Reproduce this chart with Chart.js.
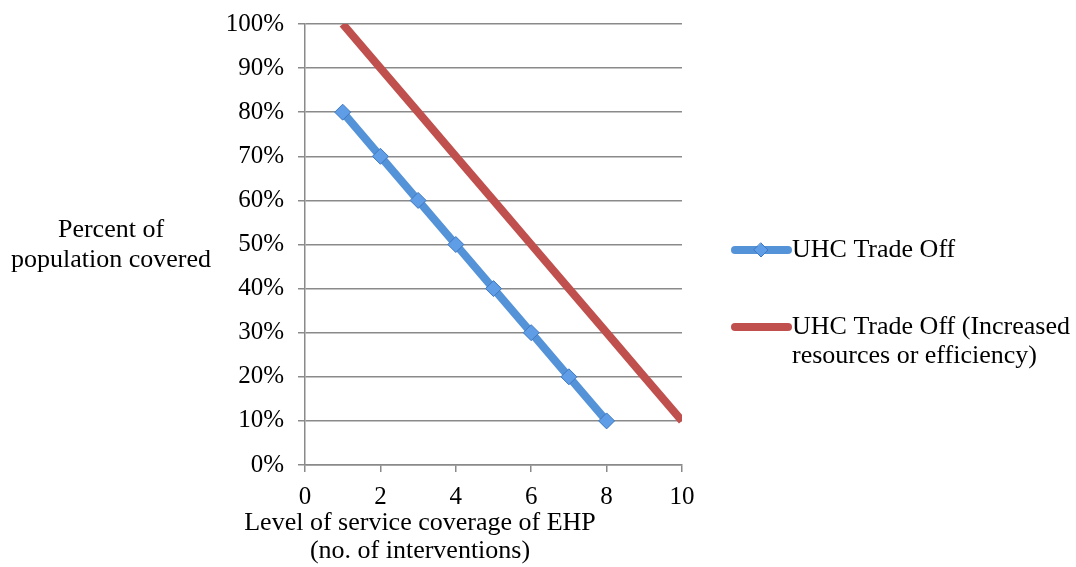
<!DOCTYPE html>
<html><head><meta charset="utf-8">
<script src="https://cdn.jsdelivr.net/npm/chart.js@4/dist/chart.umd.min.js"></script>
<style>html,body{margin:0;padding:0;background:#fff}#c{display:block}</style>
</head><body>
<canvas id="c" width="1076" height="567"></canvas>
<script>
const seriesNames = ['UHC Trade Off', 'UHC Trade Off (Increased resources or efficiency)'];
const blueX = [1, 2, 3, 4, 5, 6, 7, 8];
const blueY = [80, 70, 60, 50, 40, 30, 20, 10];
const redX = [1, 2, 3, 4, 5, 6, 7, 8, 9, 10];
const redY = [100, 90, 80, 70, 60, 50, 40, 30, 20, 10];
const xTicks = [0, 2, 4, 6, 8, 10];
const yTickStep = 10;
const yTitle = ['Percent of', 'population covered'];
const xTitle = ['Level of service coverage of EHP', '(no. of interventions)'];
const legendLines = [['UHC Trade Off'], ['UHC Trade Off (Increased', 'resources or efficiency)']];

const FONT = '"Liberation Serif", "DejaVu Serif", serif';
const FS = 25, FT = 26;
const BLUE = '#5593d9', RED = '#c0504d', GRID = '#8a8a8a';
const MFILL = '#5f9de6', MEDGE = '#3f78c0';

const toPts = (xs, ys) => xs.map((x, i) => ({x, y: ys[i]}));

const textPlugin = {
  id: 'texts',
  afterDraw(chart) {
    const ctx = chart.ctx;
    ctx.save();
    ctx.fillStyle = '#000';
    ctx.font = FT + 'px ' + FONT;
    ctx.textAlign = 'center';
    ctx.textBaseline = 'middle';
    ctx.fillText(yTitle[0], 111, 230);
    ctx.fillText(yTitle[1], 111, 260);
    ctx.fillText(xTitle[0], 420, 523);
    ctx.fillText(xTitle[1], 420, 551);
    ctx.textAlign = 'left';
    const items = [{c: BLUE, y: 250, marker: true}, {c: RED, y: 327, marker: false}];
    items.forEach((it, i) => {
      ctx.strokeStyle = it.c; ctx.lineWidth = 8; ctx.lineCap = 'round';
      ctx.beginPath(); ctx.moveTo(735, it.y); ctx.lineTo(788, it.y); ctx.stroke();
      if (it.marker) {
        ctx.fillStyle = MFILL; ctx.strokeStyle = MEDGE; ctx.lineWidth = 1;
        ctx.beginPath(); ctx.moveTo(761, it.y - 7); ctx.lineTo(768, it.y); ctx.lineTo(761, it.y + 7); ctx.lineTo(754, it.y); ctx.closePath();
        ctx.fill(); ctx.stroke();
      }
      ctx.fillStyle = '#000';
      legendLines[i].forEach((t, j) => ctx.fillText(t, 792, it.y + j * 29));
    });
    ctx.restore();
  }
};

new Chart(document.getElementById('c'), {
  type: 'line',
  data: {
    datasets: [
      {label: seriesNames[0], data: toPts(blueX, blueY), borderColor: BLUE, borderWidth: 8,
       pointStyle: 'rectRot', pointRadius: 8, pointBackgroundColor: MFILL, pointBorderColor: MEDGE, pointBorderWidth: 1,
       borderCapStyle: 'round', borderJoinStyle: 'round', order: 1},
      {label: seriesNames[1], data: toPts(redX, redY), borderColor: RED, borderWidth: 8, pointRadius: 0,
       borderCapStyle: 'butt', order: 2}
    ]
  },
  options: {
    responsive: false, animation: false,
    layout: {padding: {left: 215, right: 394, top: 24, bottom: 0}},
    plugins: {legend: {display: false}, tooltip: {enabled: false}},
    scales: {
      x: {
        type: 'linear', min: 0, max: 10,
        afterBuildTicks: s => { s.ticks = xTicks.map(v => ({value: v})); },
        afterFit: s => { s.height = 102; s.paddingLeft = 0; s.paddingRight = 0; },
        grid: {display: true, drawOnChartArea: false, color: GRID, lineWidth: 1.5, tickLength: 7},
        border: {display: true, color: GRID, width: 1.5},
        ticks: {font: {family: FONT, size: FS}, color: '#000', padding: 10, maxRotation: 0}
      },
      y: {
        min: 0, max: 100,
        afterFit: s => { s.width = 90; s.paddingTop = 0; s.paddingBottom = 0; },
        grid: {color: GRID, lineWidth: 1.5, tickLength: 7},
        border: {display: true, color: GRID, width: 1.5},
        ticks: {stepSize: yTickStep, font: {family: FONT, size: FS}, color: '#000', padding: 14,
                callback: v => v + '%'}
      }
    }
  },
  plugins: [textPlugin]
});
</script>
</body></html>
